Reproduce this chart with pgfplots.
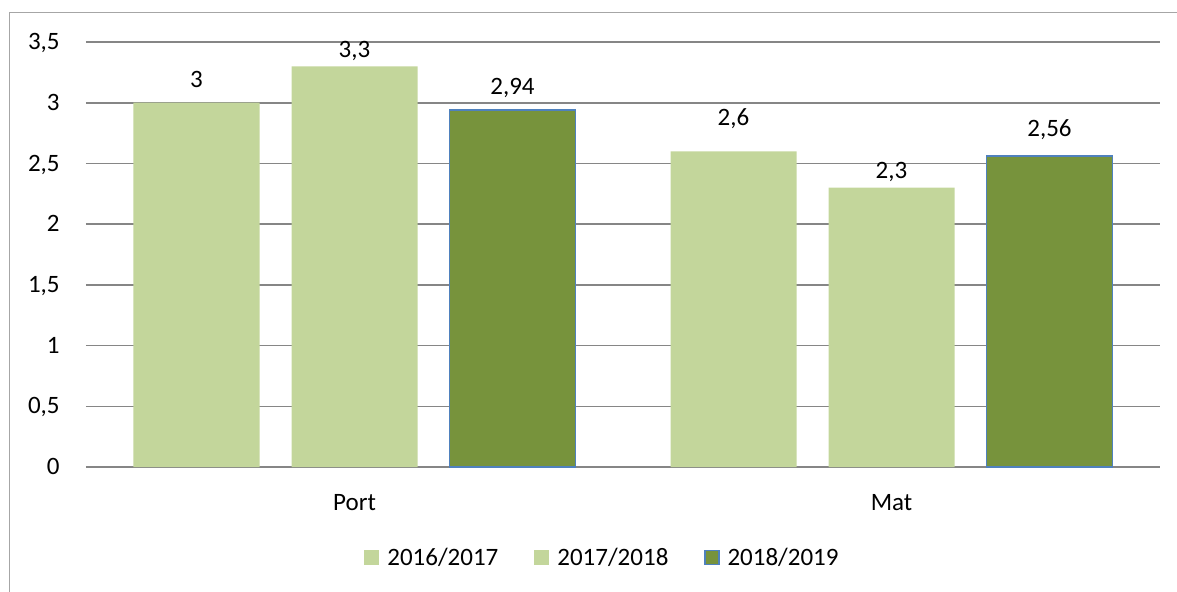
\documentclass[border=0pt]{standalone}
\usepackage{pgfplots}
\pgfplotsset{compat=1.18}
\usepackage{pgfplotstable}
\usepackage{fontspec}
\setmainfont{Carlito}
\definecolor{lg}{HTML}{C3D69B}
\definecolor{dg}{HTML}{77933C}
\definecolor{bb}{HTML}{4F81BD}
\definecolor{gridc}{HTML}{868686}
\definecolor{framec}{HTML}{A6A6A6}

\pgfplotstableread{
x y off
0 3 7.5
1 2.6 13
}\sA
\pgfplotstableread{
x y off
0 3.3 4.3
1 2.3 4.7
}\sB
\pgfplotstableread{
x y off
0 2.94 8
1 2.56 10
}\sC

\newcommand{\cf}{\fontsize{12.5}{15}\selectfont}

\begin{document}
\begin{tikzpicture}
\useasboundingbox (0,0) rectangle (588.5pt,-295.5pt);
\draw[framec, line width=0.7pt] (4.75pt,-296pt) -- (4.75pt,-6.25pt) -- (589pt,-6.25pt);
\begin{axis}[
  at={(43pt,-233.5pt)}, anchor=south west,
  scale only axis, width=537pt, height=212.5pt,
  xmin=-0.5, xmax=1.5, ymin=0, ymax=3.5,
  ybar=16pt, bar width=63pt,
  xtick={0,1}, xticklabels={Port,Mat},
  ytick={0,0.5,1,1.5,2,2.5,3,3.5},
  major tick length=0pt,
  axis line style={draw=none},
  ymajorgrids, grid style={gridc, line width=0.8pt},
  /pgf/number format/use comma,
  /pgf/number format/fixed,
  /pgf/number format/assume math mode=true,
  yticklabel style={font=\cf, anchor=base east, inner sep=0pt, xshift=-13pt, yshift=-3.8pt},
  xticklabel style={font=\cf, anchor=base, inner sep=0pt, yshift=-21.5pt},
  nodes near coords,
  visualization depends on={\thisrow{off}\as\loff},
  every node near coord/.append style={font=\cf, anchor=base, inner sep=0pt, yshift=\loff pt, text=black},
  clip=false,
  legend columns=3,
  legend style={at={(0.2588,-0.2141)}, anchor=west, draw=none, fill=none, inner sep=0pt, font=\cf,
    nodes={inner sep=0pt, anchor=base west},
    /tikz/every odd column/.append style={column sep=4pt},
    /tikz/every even column/.append style={column sep=18pt}},
]
\addplot[fill=lg, draw=none,
  legend image code/.code={\fill[lg] (0pt,0.1pt) rectangle (7.5pt,7.6pt);}] table[x=x,y=y] {\sA};
\addlegendentry{2016/2017}
\addplot[fill=lg, draw=none,
  legend image code/.code={\fill[lg] (0pt,0.1pt) rectangle (7.5pt,7.6pt);}] table[x=x,y=y] {\sB};
\addlegendentry{2017/2018}
\addplot[fill=dg, draw=bb, line width=0.75pt,
  legend image code/.code={\draw[fill=dg, draw=bb, line width=0.75pt] (0.35pt,0.45pt) rectangle (7.15pt,7.25pt);}] table[x=x,y=y] {\sC};
\addlegendentry{2018/2019}
\end{axis}
\end{tikzpicture}
\end{document}
